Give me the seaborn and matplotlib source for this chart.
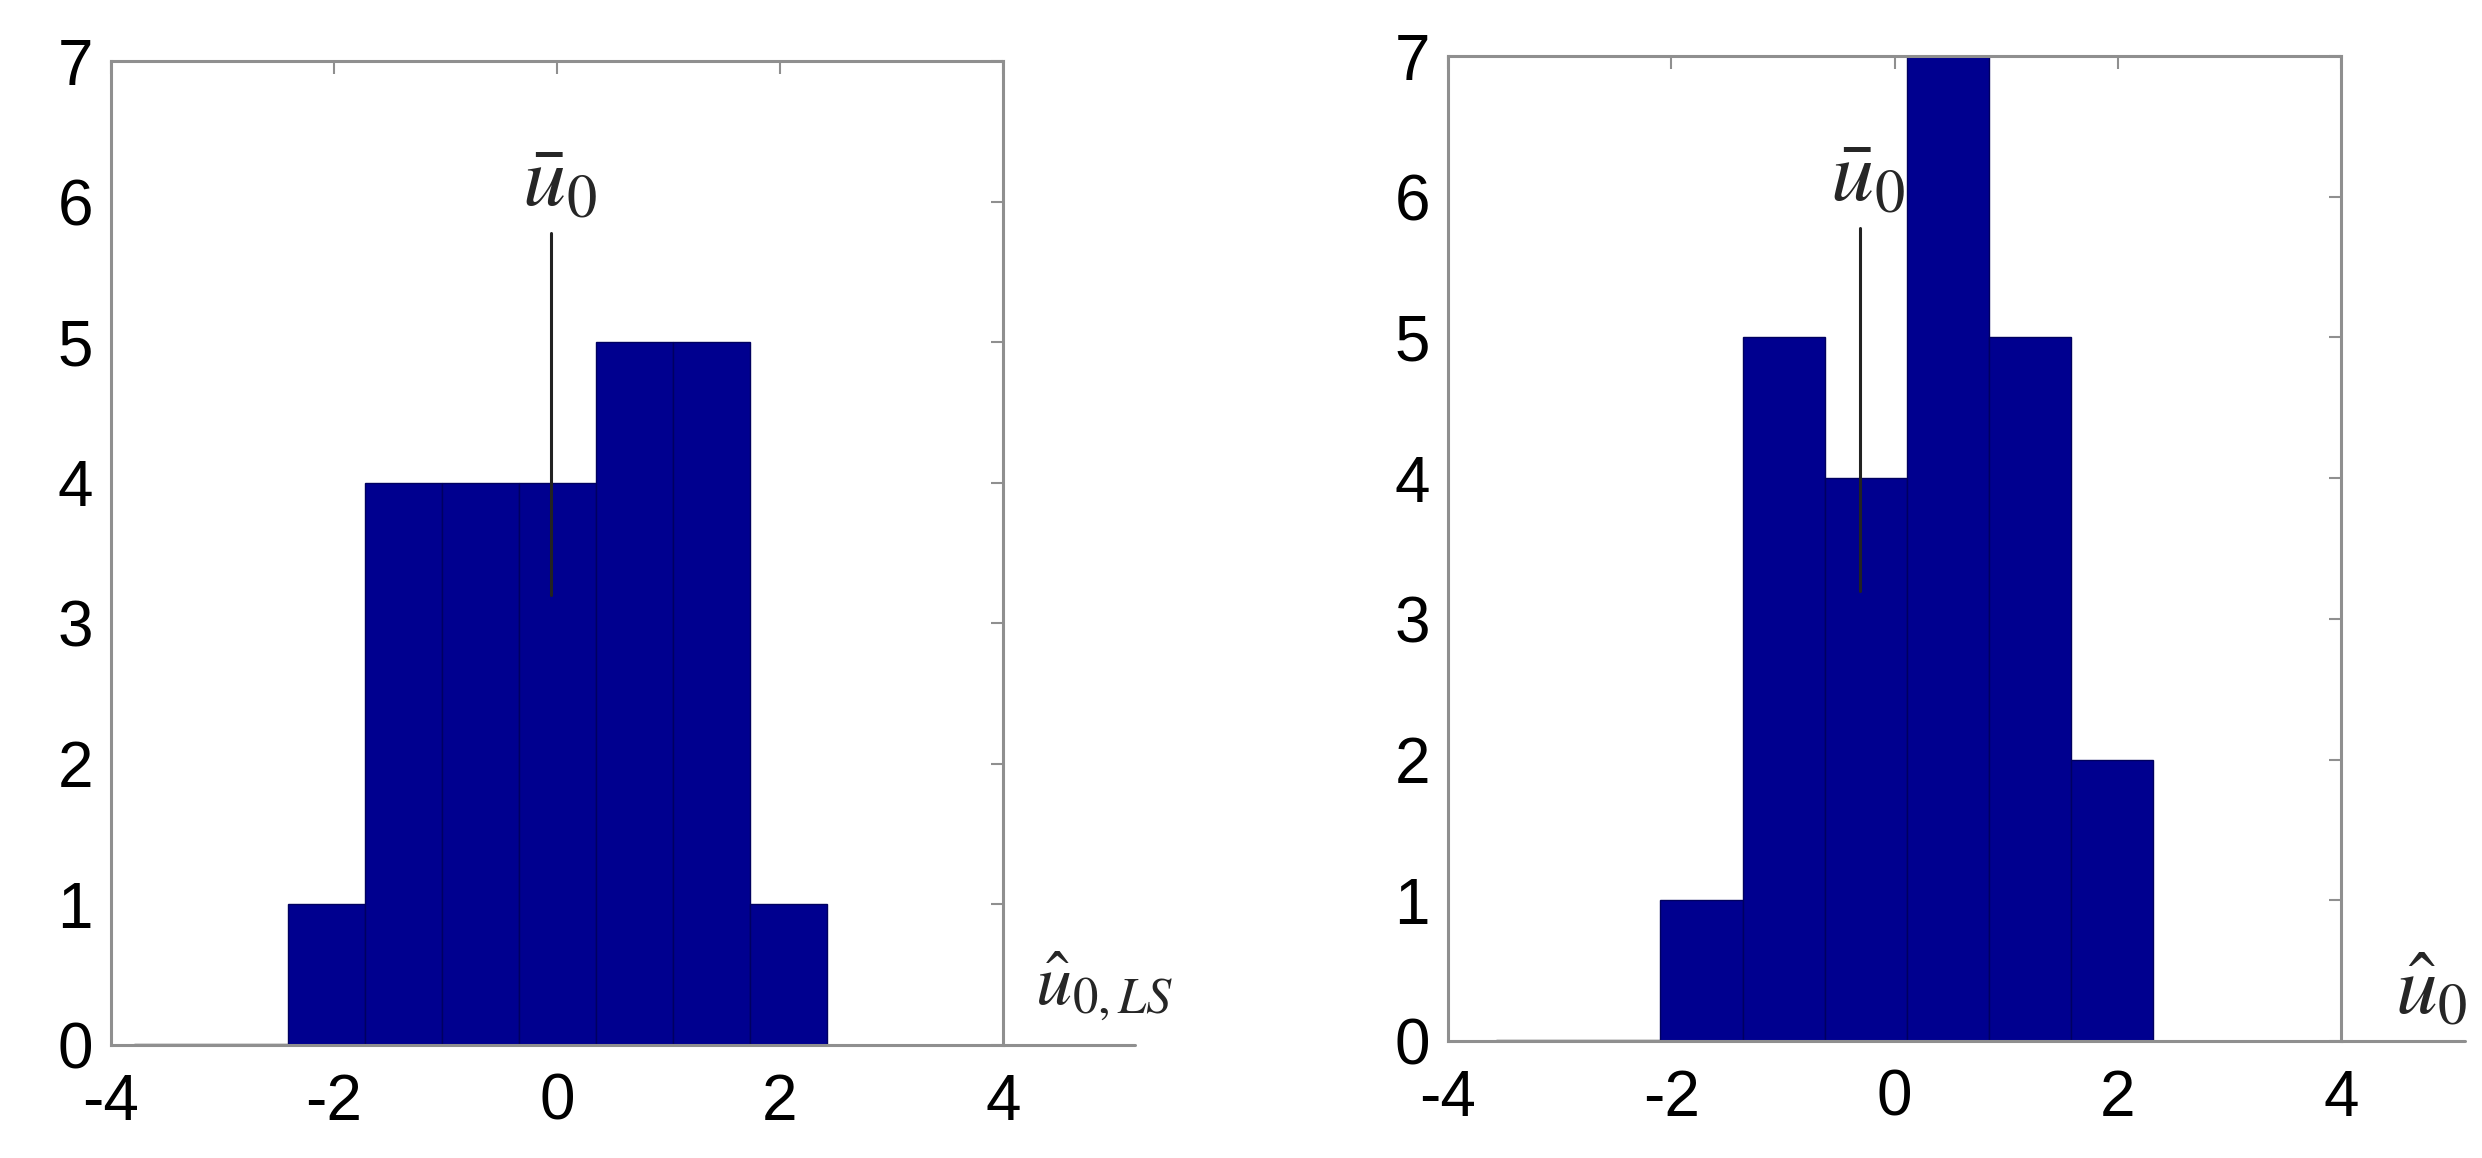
import matplotlib.pyplot as plt
import numpy as np
import pandas as pd
import seaborn as sns

# histogram bins (left: LS estimate, right: estimate)
ls_edges = [-3.79, -3.10, -2.41, -1.72, -1.03, -0.34, 0.35, 1.04, 1.73, 2.42]
ls_counts = [0, 0, 1, 4, 4, 4, 5, 5, 1]
ls_mean = -0.05

est_edges = [-3.57, -2.84, -2.10, -1.36, -0.62, 0.11, 0.85, 1.58, 2.32]
est_counts = [0, 0, 1, 5, 4, 7, 5, 2]
est_mean = -0.31

mean_top, mean_bottom = 5.78, 3.2
x_ticks = [-4, -2, 0, 2, 4]
y_ticks = [0, 1, 2, 3, 4, 5, 6, 7]

sns.set_style("white")
plt.rcParams['font.family'] = ['Liberation Sans', 'DejaVu Sans']
plt.rcParams['mathtext.fontset'] = 'stix'
plt.rcParams['axes.unicode_minus'] = False

fig = plt.figure(figsize=(24.82, 11.58), dpi=100)
ax_l = fig.add_axes([0.0447, 0.0976, 0.3594, 0.8497])
ax_r = fig.add_axes([0.5834, 0.1010, 0.3598, 0.8506])

panels = [
    (ax_l, ls_edges, ls_counts, ls_mean, r"$\hat{u}_{0,LS}$", 0.148, 0.036, 0.041, 52),
    (ax_r, est_edges, est_counts, est_mean, r"$\hat{u}_0$", 0.139, 0.060, 0.028, 60),
]

for ax, edges, counts, mean, label, ext, lab_x, lab_y, lab_size in panels:
    e = np.array(edges)
    df = pd.DataFrame({"value": (e[:-1] + e[1:]) / 2, "count": counts})
    sns.histplot(data=df, x="value", weights="count", bins=list(edges), ax=ax,
                 color="#00008F", alpha=1, edgecolor="#000060", linewidth=1)
    # empty bins show up as a flat dark line on the baseline
    for p in ax.patches:
        if p.get_height() == 0:
            p.set_edgecolor("#555555")
            p.set_linewidth(2.5)

    # mean marker
    ax.plot([mean, mean], [mean_bottom, mean_top], color="#222222", lw=2.2)
    ax.text(mean + 0.07, 5.97, r"$\bar{u}_0$", fontsize=62,
            ha="center", va="baseline")

    ax.set_xlim(-4, 4)
    ax.set_ylim(0, 7)
    ax.set_xticks(x_ticks)
    ax.set_yticks(y_ticks)
    ax.set_xlabel("")
    ax.set_ylabel("")
    for s in ax.spines.values():
        s.set_color("#8f8f8f")
        s.set_linewidth(2.2)
    ax.tick_params(direction="in", length=9, width=1.5, color="#8f8f8f",
                   top=True, right=True, labelsize=46, labelcolor="black")
    ax.tick_params(axis="x", pad=20)
    ax.tick_params(axis="y", pad=13)

    # x axis line running on past the box, with the variable name
    ax.plot([1, 1 + ext], [0, 0], transform=ax.transAxes, clip_on=False,
            color="#8f8f8f", lw=2.2)
    ax.text(1 + lab_x, lab_y, label, transform=ax.transAxes, fontsize=lab_size,
            ha="left", va="baseline")

fig.savefig("out.png", dpi=100)
